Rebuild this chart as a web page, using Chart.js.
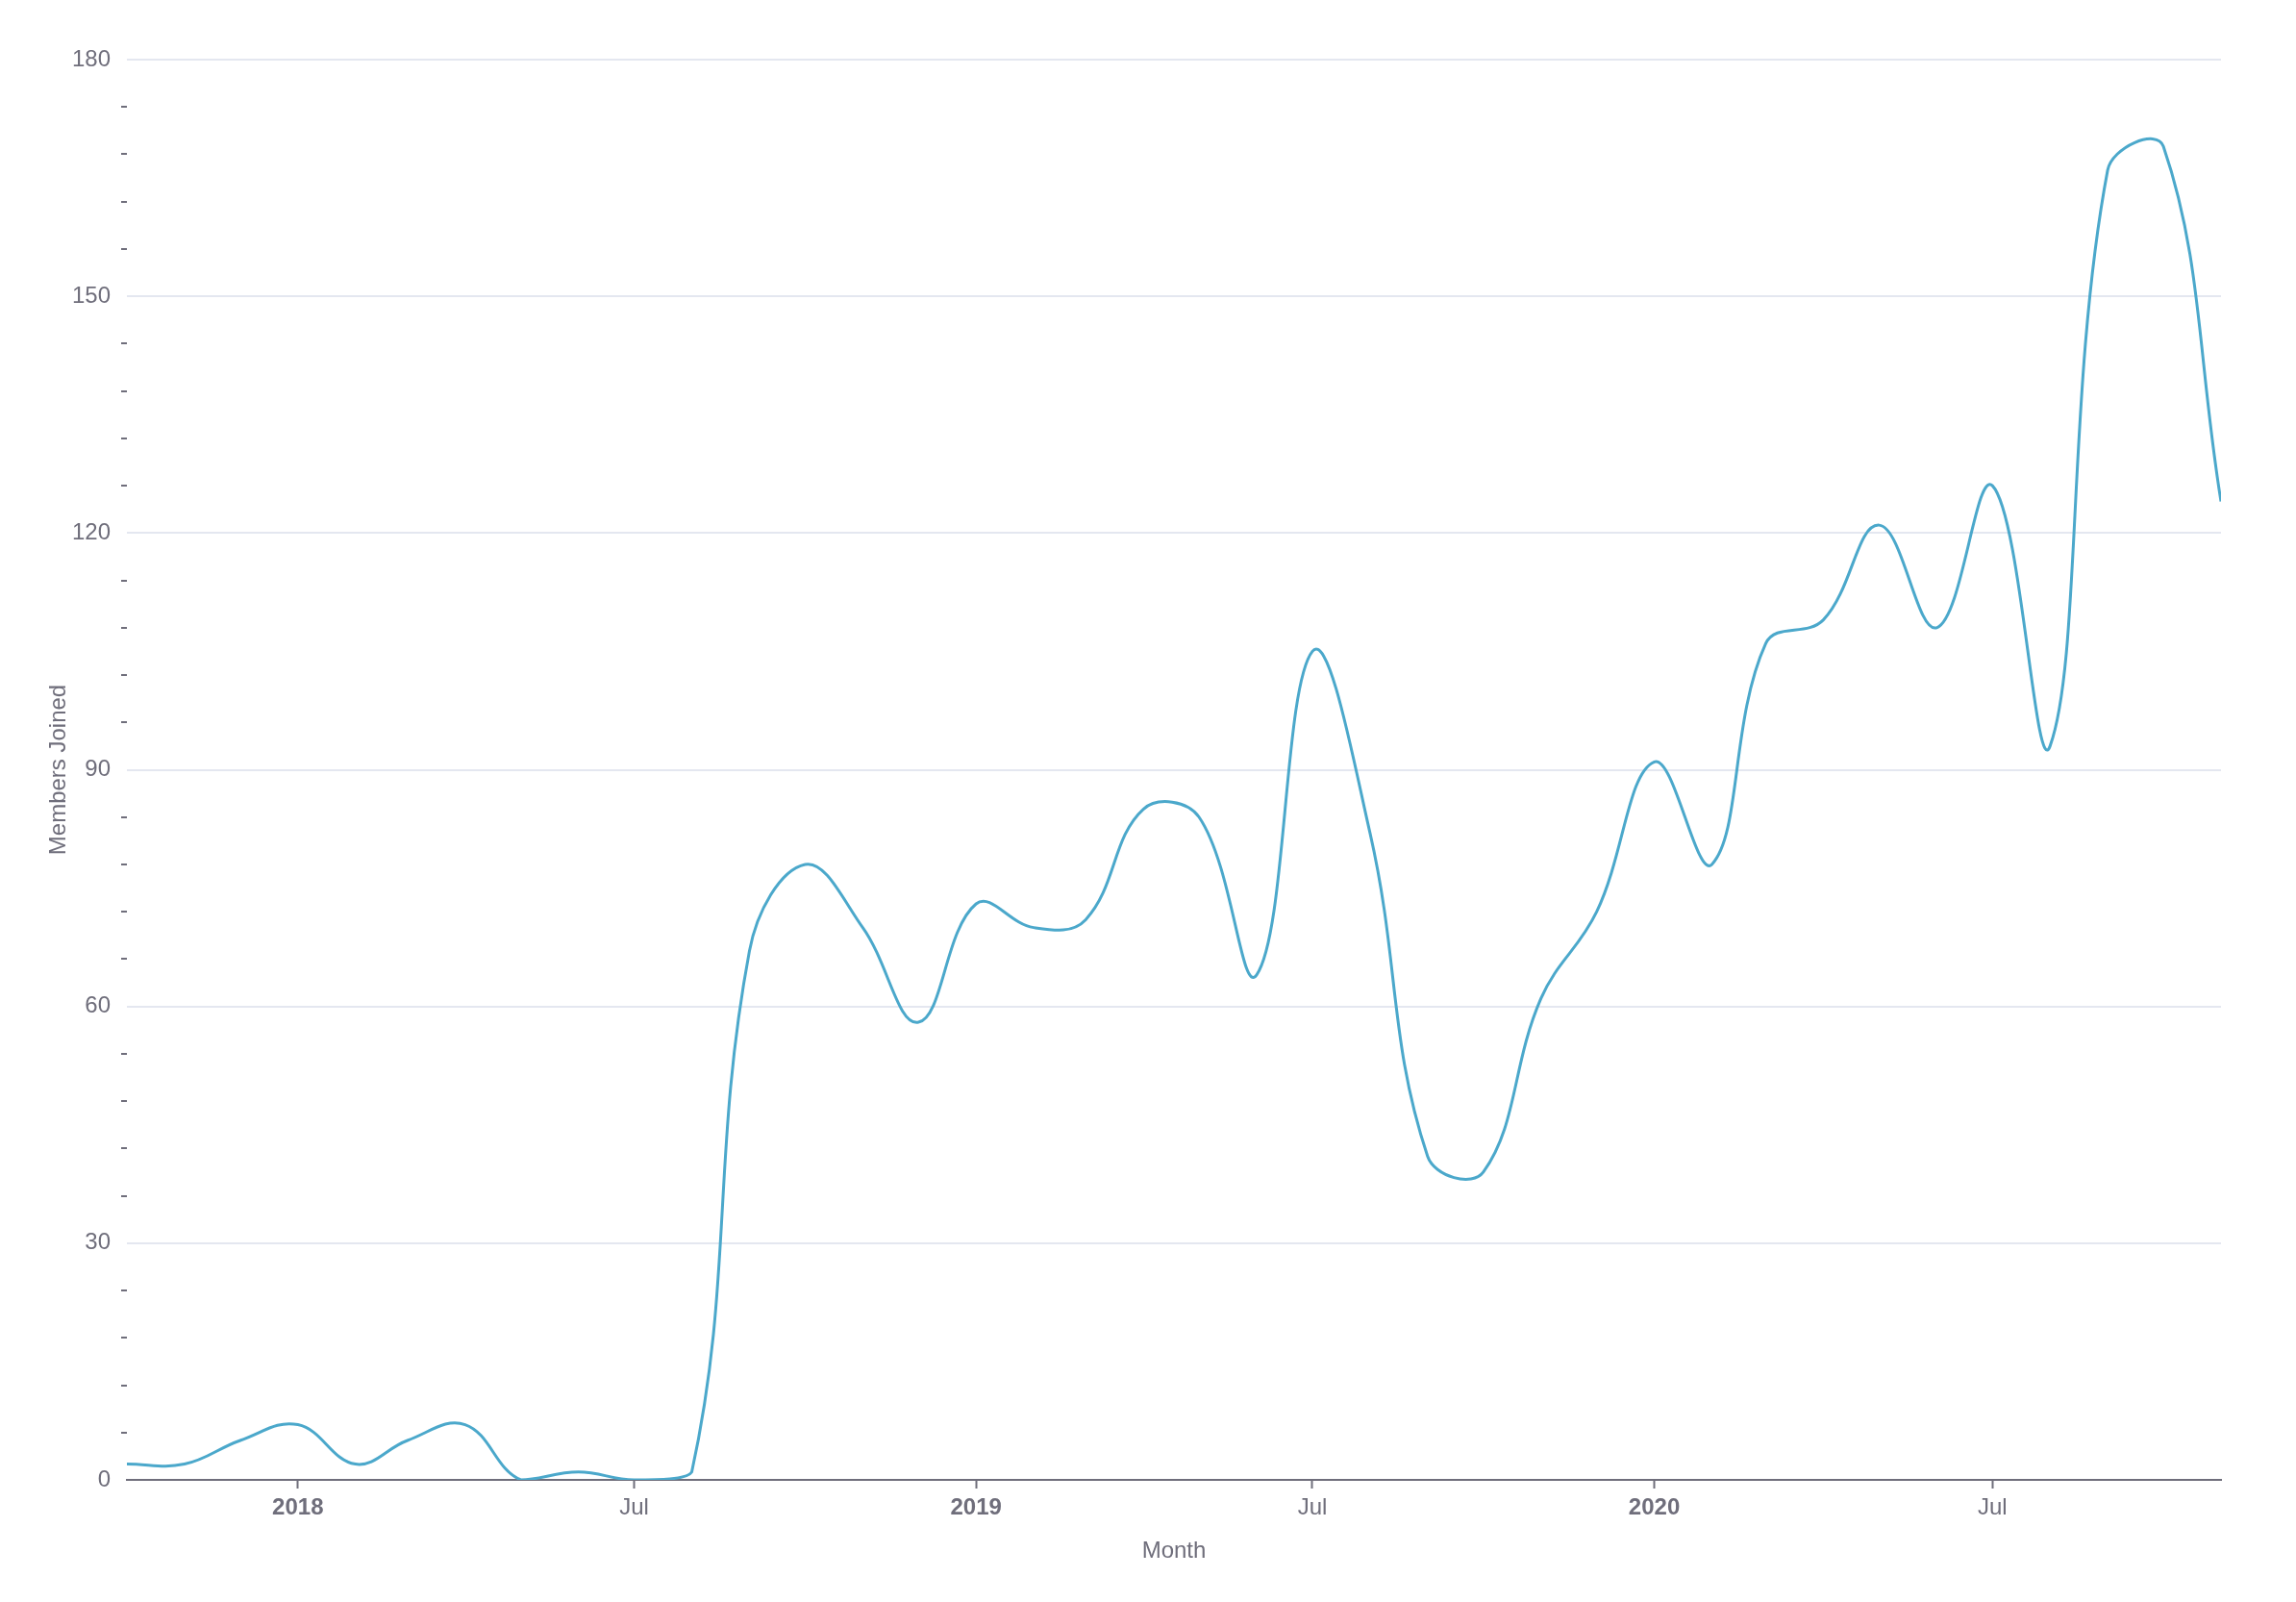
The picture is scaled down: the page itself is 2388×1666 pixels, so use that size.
<!DOCTYPE html>
<html>
<head>
<meta charset="utf-8">
<title>Members Joined</title>
<script src="https://cdn.jsdelivr.net/npm/chart.js@4.4.0/dist/chart.umd.min.js"></script>
<style>
    html, body { margin: 0; padding: 0; background: #ffffff; }
    #wrap { width: 2388px; height: 1666px; position: relative; }
</style>
</head>
<body>
<div id="wrap"><canvas id="membersChart"></canvas></div>
<script>
// Datos mensuales (primer día de cada mes)
const months = [
    '2017-10', '2017-11', '2017-12',
    '2018-01', '2018-02', '2018-03', '2018-04', '2018-05', '2018-06',
    '2018-07', '2018-08', '2018-09', '2018-10', '2018-11', '2018-12',
    '2019-01', '2019-02', '2019-03', '2019-04', '2019-05', '2019-06',
    '2019-07', '2019-08', '2019-09', '2019-10', '2019-11', '2019-12',
    '2020-01', '2020-02', '2020-03', '2020-04', '2020-05', '2020-06',
    '2020-07', '2020-08', '2020-09', '2020-10', '2020-11'
];
const membersJoined = [
    2, 2, 5,
    7, 2, 5, 7, 0, 1,
    0, 1, 67, 78, 70, 58,
    73, 70, 71, 85, 84, 64,
    105, 82, 41, 39, 61, 72,
    91, 78, 106, 109, 121, 108,
    126, 93, 166, 169, 124
];

// Etiquetas del eje X
const xTickDates = ['2018-01', '2018-07', '2019-01', '2019-07', '2020-01', '2020-07'];
const xTickLabels = ['2018', 'Jul', '2019', 'Jul', '2020', 'Jul'];

// Eje Y
const yMax = 180;
const yLabelStep = 30;
const yMinorStep = 6;

const textColor = '#6f6e7b';
const gridColor = '#e4e7f0';
const lineColor = '#4ba8cb';
const fontFamily = '"Liberation Sans", Arial, Helvetica, sans-serif';

function toTime(ym) {
    const [y, m] = ym.split('-').map(Number);
    return Date.UTC(y, m - 1, 1);
}

function initializeChart() {
    const ctx = document.getElementById('membersChart').getContext('2d');
    return new Chart(ctx, {
        type: 'line',
        data: {
            datasets: [{
                label: 'Members Joined',
                data: months.map((m, i) => ({ x: toTime(m), y: membersJoined[i] })),
                borderColor: lineColor,
                borderWidth: 3,
                tension: 0.4,
                pointRadius: 0,
                fill: false
            }]
        },
        options: {
            responsive: true,
            maintainAspectRatio: false,
            devicePixelRatio: 1,
            animation: false,
            layout: {
                padding: { left: 0, right: 78, top: 62, bottom: 0 }
            },
            plugins: {
                legend: { display: false },
                tooltip: { enabled: false }
            },
            scales: {
                x: {
                    type: 'linear',
                    min: toTime(months[0]),
                    max: toTime(months[months.length - 1]),
                    afterBuildTicks: (scale) => {
                        scale.ticks = xTickDates.map(d => ({ value: toTime(d) }));
                    },
                    afterFit: (scale) => { scale.height = 127; },
                    border: { display: true, color: textColor, width: 2 },
                    grid: {
                        drawOnChartArea: false,
                        drawTicks: true,
                        tickLength: 9,
                        tickColor: textColor,
                        tickWidth: 2
                    },
                    ticks: {
                        autoSkip: false,
                        maxRotation: 0,
                        padding: 6,
                        color: textColor,
                        font: (c) => ({
                            family: fontFamily,
                            size: 24,
                            weight: /^\d{4}$/.test(xTickLabels[c.index]) ? 'bold' : 'normal'
                        }),
                        callback: (value, index) => xTickLabels[index]
                    },
                    title: {
                        display: true,
                        text: 'Month',
                        color: textColor,
                        font: { family: fontFamily, size: 24 },
                        padding: { top: 0, bottom: 38 }
                    }
                },
                y: {
                    min: 0,
                    max: yMax,
                    afterFit: (scale) => { scale.width = 132; },
                    border: { display: false },
                    grid: {
                        drawTicks: true,
                        tickLength: 6,
                        tickWidth: 2,
                        lineWidth: 2,
                        color: (c) => (c.tick && c.tick.value % yLabelStep === 0 && c.tick.value !== 0) ? gridColor : 'rgba(0,0,0,0)',
                        tickColor: (c) => (c.tick && c.tick.value % yLabelStep !== 0) ? textColor : 'rgba(0,0,0,0)'
                    },
                    ticks: {
                        stepSize: yMinorStep,
                        autoSkip: false,
                        padding: 11,
                        color: textColor,
                        font: { family: fontFamily, size: 24 },
                        callback: (value) => value % yLabelStep === 0 ? value : ''
                    },
                    title: {
                        display: true,
                        text: 'Members Joined',
                        color: textColor,
                        font: { family: fontFamily, size: 24 },
                        padding: { top: 47, bottom: 0 }
                    }
                }
            }
        }
    });
}

document.addEventListener('DOMContentLoaded', () => {
    initializeChart();
});
</script>
</body>
</html>
